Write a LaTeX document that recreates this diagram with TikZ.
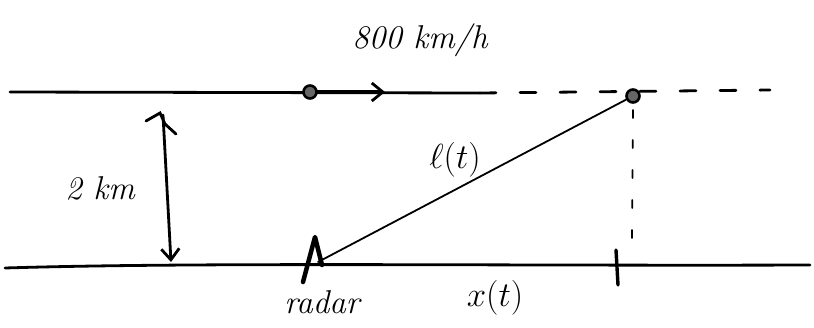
\documentclass[tikz,border=0pt]{standalone}
\usetikzlibrary{arrows.meta}
\begin{document}
\begin{tikzpicture}[x=1pt,y=-1pt,
  ink/.style={line width=2.8pt,black,line cap=round},
  thin ink/.style={line width=1.8pt,black,line cap=round},
  label/.style={font=\fontsize{33}{35}\selectfont\itshape,inner sep=1pt},
  mlabel/.style={font=\fontsize{24}{26}\selectfont,inner sep=1pt},
  dot/.style={circle,draw,line width=2.6pt,minimum size=13pt,inner sep=0pt,fill=black!60},
  arr/.style={-{Straight Barb[length=11pt,width=18pt,line width=2.8pt]}}]
\useasboundingbox (0,0) rectangle (814,327);
% ground and flight lines
\coordinate (gl) at (5,268);
\coordinate (gr) at (810,265);
\draw[ink] (gl) .. controls (200,262) and (500,266) .. (gr);
\coordinate (fl) at (10,92);
\coordinate (fm) at (480,93);
\coordinate (fr) at (770,90);
\draw[ink] (fl) -- (fm);
\draw[ink,dash pattern=on 16pt off 24pt] (fm) -- (fr);
% plane positions
\node[dot] (p1) at (310,92) {};
\coordinate (p1a) at (385,92);
\draw[ink,arr,line width=4.5pt] (p1) -- (p1a);
\node[dot] (p2) at (633,96) {};
% radar
\coordinate (radar) at (318,262);
\draw[ink,line width=4.5pt,line join=round] (303,282) -- (315,237) -- (322,265);
\draw[thin ink] (radar) -- (p2);
% vertical projection
\coordinate (foot) at (632,240);
\draw[thin ink,dash pattern=on 8pt off 22pt] (p2) ++(0,14) -- (foot);
\coordinate (tt) at (616,250);
\coordinate (tb) at (618,285);
\draw[ink,line width=3.4pt] (tt) -- (tb);
% altitude arrow
\coordinate (at) at (163,115);
\coordinate (ab) at (171,262);
\draw[ink,arr] (at) -- (ab);
\draw[ink] (146,121) -- (160,113) -- (165,124) -- (176,134);
% labels
\node[label] (speed) at (420,40) {800 km/h};
\node[label] (alt) at (100,188) {2 km};
\node[mlabel] (lt) at (455,160) {\scalebox{1.4}{$\ell(t)$}};
\node[label] (rad) at (322,302) {radar};
\node[mlabel] (xt) at (495,298) {\scalebox{1.4}{$x(t)$}};
\end{tikzpicture}
\end{document}
